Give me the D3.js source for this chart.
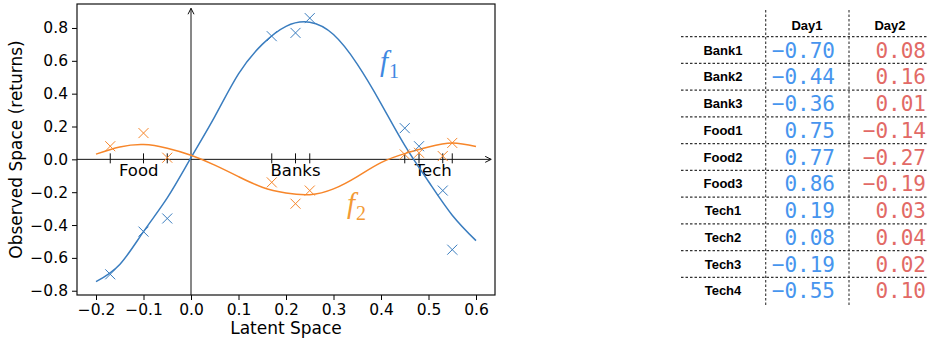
<!DOCTYPE html>
<html>
<head>
<meta charset="utf-8">
<script src="https://cdn.jsdelivr.net/npm/d3@7"></script>
<style>
  body { margin: 0; background: #fff; }
  svg { display: block; }
  .tick text { font-family: "DejaVu Sans", sans-serif; font-size: 15.5px; fill: #000; }
  .tick line { stroke: #000; stroke-width: 1; }
</style>
</head>
<body>
<svg id="chart" width="927" height="344"></svg>
<script>
// Data
const latent = [-0.17, -0.10, -0.05, 0.17, 0.22, 0.25, 0.45, 0.48, 0.53, 0.55];
const day1 = [-0.70, -0.44, -0.36, 0.75, 0.77, 0.86, 0.19, 0.08, -0.19, -0.55];
const day2 = [0.08, 0.16, 0.01, -0.14, -0.27, -0.19, 0.03, 0.04, 0.02, 0.10];
const rowNames = ["Bank1", "Bank2", "Bank3", "Food1", "Food2", "Food3", "Tech1", "Tech2", "Tech3", "Tech4"];
const columns = ["Day1", "Day2"];

// fitted curves
const curveX = [-0.2, -0.15, -0.1, -0.05, 0.0, 0.05, 0.1, 0.15, 0.2, 0.25, 0.3, 0.35, 0.4, 0.45, 0.5, 0.55, 0.6];
const f1Curve = [-0.745, -0.64, -0.44, -0.235, 0.01, 0.26, 0.52, 0.70, 0.81, 0.835, 0.76, 0.58, 0.34, 0.085, -0.135, -0.34, -0.495];
const f2Curve = [0.032, 0.075, 0.09, 0.068, 0.025, -0.035, -0.105, -0.17, -0.205, -0.215, -0.18, -0.105, -0.02, 0.035, 0.075, 0.10, 0.078];

const groups = ["Food", "Banks", "Tech"];
const groupX = [-0.11, 0.22, 0.51];

const xDomain = [-0.24, 0.64];
const yDomain = [-0.826, 0.946];

// Display settings
const BLUE = "#3a7dbf", ORANGE = "#f7862a";
const F1_COLOR = "#3f88e2", F2_COLOR = "#f39a35";
const TAB_BLUE = "#4795ee", TAB_RED = "#e26a66";
const plot = {left: 77, top: 4, right: 495, bottom: 295};

const svg = d3.select("#chart");

// Math Objects
const x = d3.scaleLinear().domain(xDomain).range([plot.left, plot.right]);
const y = d3.scaleLinear().domain(yDomain).range([plot.bottom, plot.top]);

// arrow head like matplotlib "->"
svg.append("defs").append("marker")
    .attr("id", "arrow")
    .attr("viewBox", "-8 -5 10 10")
    .attr("refX", 0).attr("refY", 0)
    .attr("markerWidth", 10).attr("markerHeight", 10)
    .attr("markerUnits", "userSpaceOnUse")
    .attr("orient", "auto")
    .append("path")
    .attr("d", "M-6,-3 L0,0 L-6,3")
    .attr("fill", "none")
    .attr("stroke", "#111")
    .attr("stroke-width", 1);

// Axes
const xAxis = svg.append("g")
    .attr("transform", `translate(0,${plot.bottom})`)
    .call(d3.axisBottom(x).ticks(10).tickFormat(d3.format(".1f")).tickSize(5).tickPadding(4));
const yAxis = svg.append("g")
    .attr("transform", `translate(${plot.left},0)`)
    .call(d3.axisLeft(y).ticks(10).tickFormat(d3.format(".1f")).tickSize(5).tickPadding(4));
xAxis.select(".domain").remove();
yAxis.select(".domain").remove();

// frame
svg.append("rect")
    .attr("x", plot.left).attr("y", plot.top)
    .attr("width", plot.right - plot.left).attr("height", plot.bottom - plot.top)
    .attr("fill", "none").attr("stroke", "#111").attr("stroke-width", 1.2);

// zero lines with arrows
svg.append("line")
    .attr("x1", plot.left).attr("x2", x(0.632))
    .attr("y1", y(0)).attr("y2", y(0))
    .attr("stroke", "#111").attr("stroke-width", 1)
    .attr("marker-end", "url(#arrow)");
svg.append("line")
    .attr("x1", x(0)).attr("x2", x(0))
    .attr("y1", plot.bottom).attr("y2", y(0.92))
    .attr("stroke", "#111").attr("stroke-width", 1)
    .attr("marker-end", "url(#arrow)");

// small ticks on the latent axis
svg.append("g").selectAll("line")
    .data(latent)
    .join("line")
    .attr("x1", d => x(d)).attr("x2", d => x(d))
    .attr("y1", y(0) - 6).attr("y2", y(0) + 4)
    .attr("stroke", "#111").attr("stroke-width", 1);

svg.append("g").selectAll("text")
    .data(groups)
    .join("text")
    .attr("x", (d, i) => x(groupX[i]))
    .attr("y", y(0) + 17)
    .attr("text-anchor", "middle")
    .style("font-family", "DejaVu Sans, sans-serif")
    .style("font-size", "16.5px")
    .text(d => d);

// Curves
const line = d3.line()
    .x((d, i) => x(curveX[i]))
    .y(d => y(d))
    .curve(d3.curveNatural);

svg.append("path").datum(f1Curve)
    .attr("d", line).attr("fill", "none")
    .attr("stroke", BLUE).attr("stroke-width", 1.5);
svg.append("path").datum(f2Curve)
    .attr("d", line).attr("fill", "none")
    .attr("stroke", ORANGE).attr("stroke-width", 1.5);

// x markers
function crosses(values, color) {
    const s = 5;
    svg.append("g").selectAll("path")
        .data(values)
        .join("path")
        .attr("d", (d, i) => {
            const cx = x(latent[i]), cy = y(d);
            return `M${cx - s},${cy - s}L${cx + s},${cy + s}M${cx - s},${cy + s}L${cx + s},${cy - s}`;
        })
        .attr("fill", "none")
        .attr("stroke", color)
        .attr("stroke-width", 1);
}
crosses(day1, BLUE);
crosses(day2, ORANGE);

// f labels
function fLabel(px, py, sub, color) {
    const t = svg.append("text")
        .attr("x", px).attr("y", py)
        .attr("fill", color)
        .style("font-family", "Liberation Serif, serif");
    t.append("tspan").style("font-style", "italic").style("font-size", "29px").text("f");
    t.append("tspan").attr("dy", 7).attr("dx", 1).style("font-size", "20px").text(sub);
}
fLabel(380, 71, "1", F1_COLOR);
fLabel(347, 213, "2", F2_COLOR);

// Axis titles
svg.append("text")
    .attr("x", (plot.left + plot.right) / 2)
    .attr("y", 334)
    .attr("text-anchor", "middle")
    .style("font-family", "DejaVu Sans, sans-serif")
    .style("font-size", "17px")
    .text("Latent Space");

svg.append("text")
    .attr("transform", `translate(22,${(plot.top + plot.bottom) / 2}) rotate(-90)`)
    .attr("text-anchor", "middle")
    .style("font-family", "DejaVu Sans, sans-serif")
    .style("font-size", "17px")
    .text("Observed Space (returns)");

////////// Table //////////
const rowY = d3.scaleLinear().domain([0, 1]).range([50, 76.75]);
const colRight = [835, 926];
const colCenter = [807, 890];
const dash = "2.5,2";

const table = svg.append("g");

table.selectAll(".hline")
    .data(d3.range(rowNames.length))
    .join("line")
    .attr("x1", 681).attr("x2", 927)
    .attr("y1", i => rowY(i) - 13.4).attr("y2", i => rowY(i) - 13.4)
    .attr("stroke", "#333").attr("stroke-width", 1.1)
    .attr("stroke-dasharray", dash);

table.selectAll(".vline")
    .data([765.7, 849])
    .join("line")
    .attr("x1", d => d).attr("x2", d => d)
    .attr("y1", 10).attr("y2", 305)
    .attr("stroke", "#333").attr("stroke-width", 1.1)
    .attr("stroke-dasharray", dash);

table.selectAll(".colhead")
    .data(columns)
    .join("text")
    .attr("x", (d, i) => colCenter[i])
    .attr("y", 25)
    .attr("dy", "0.35em")
    .attr("text-anchor", "middle")
    .style("font-family", "Liberation Sans, Arial, sans-serif")
    .style("font-weight", "bold")
    .style("font-size", "13px")
    .text(d => d);

table.selectAll(".rowname")
    .data(rowNames)
    .join("text")
    .attr("x", 723)
    .attr("y", (d, i) => rowY(i))
    .attr("dy", "0.35em")
    .attr("text-anchor", "middle")
    .style("font-family", "Liberation Sans, Arial, sans-serif")
    .style("font-weight", "bold")
    .style("font-size", "13px")
    .text(d => d);

const fmt = d3.format(".2f");
[day1, day2].forEach((vals, c) => {
    table.append("g").selectAll("text")
        .data(vals)
        .join("text")
        .attr("x", colRight[c])
        .attr("y", (d, i) => rowY(i))
        .attr("dy", "0.36em")
        .attr("text-anchor", "end")
        .attr("fill", c === 0 ? TAB_BLUE : TAB_RED)
        .style("font-family", "DejaVu Sans Mono, monospace")
        .style("font-size", "21px")
        .text(d => fmt(d));
});
</script>
</body>
</html>
